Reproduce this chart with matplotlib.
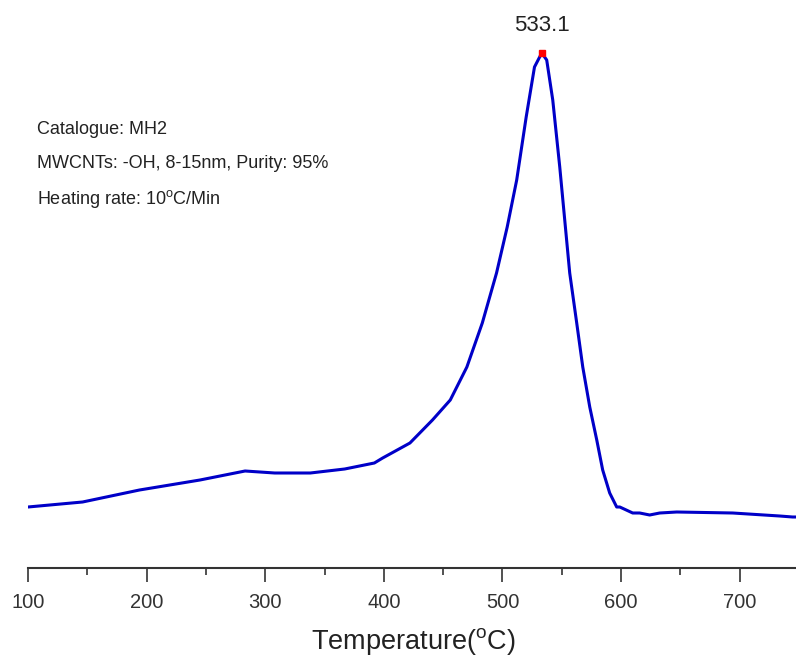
import matplotlib
matplotlib.use("Agg")
import matplotlib.pyplot as plt
from matplotlib.ticker import MultipleLocator

plt.rcParams['font.family'] = ['Liberation Sans', 'DejaVu Sans']
plt.rcParams['mathtext.fontset'] = 'custom'
plt.rcParams['mathtext.rm'] = 'Liberation Sans'

# temperature (C) and signal (arbitrary units)
temp = [100, 146, 194, 245, 283, 308, 338, 367, 392, 399, 422, 441, 456, 470,
        483, 495, 504, 512, 520, 527, 533.1, 537.3, 542.4, 548.3, 552.5, 556.7,
        562.6, 567.7, 573.6, 579.5, 584.5, 590.4, 596.3, 598.9, 609.8, 615.7,
        624.1, 632.6, 646.9, 694.1, 733.7, 744.6, 750]
signal = [61, 66, 78, 88, 97, 95, 95, 99, 105, 110, 125, 148, 168, 201,
          245, 295, 341, 388, 451, 501, 515, 508, 468, 401, 348, 295,
          245, 201, 161, 128, 98, 75, 61, 61, 55, 55,
          53, 55, 56, 55, 52, 51, 51]

peak_t = 533.1
peak_s = 515

info = ["Catalogue: MH2",
        "MWCNTs: -OH, 8-15nm, Purity: 95%",
        r"Heating rate: 10$^{\rm o}$C/Min"]

W, H = 796, 657
fig = plt.figure(figsize=(W / 100, H / 100), dpi=100)
ax = fig.add_axes([28 / W, 1 - 568 / H, 771 / W, 568 / H])

ax.plot(temp, signal, color="#0000c8", lw=2.2)
ax.plot([peak_t], [peak_s], marker="s", ms=4, color="red", mec="red")
ax.text(peak_t, peak_s + 17, f"{peak_t}", ha="center", va="bottom",
        fontsize=16, color="#222222")

ys = [130, 164, 199]
for s, y in zip(info, ys):
    fig.text(37 / W, 1 - y / H, s, fontsize=13, color="#222222",
             ha="left", va="center")

ax.set_xlim(100, 750)
ax.set_ylim(0, 568)
for side in ["left", "right", "top"]:
    ax.spines[side].set_visible(False)
ax.spines["bottom"].set_linewidth(1.5)
ax.spines["bottom"].set_color("#333333")
ax.set_yticks([])
ax.xaxis.set_major_locator(MultipleLocator(100))
ax.xaxis.set_minor_locator(MultipleLocator(50))
ax.tick_params(axis="x", which="major", length=10, width=1.2, labelsize=14.5,
               colors="#333333", pad=8)
ax.tick_params(axis="x", which="minor", length=5, width=1.2, colors="#333333")
ax.set_xlabel(r"Temperature($^{\rm o}$C)", fontsize=19.5, labelpad=10,
              color="#222222")

fig.savefig("out.png", dpi=100)
